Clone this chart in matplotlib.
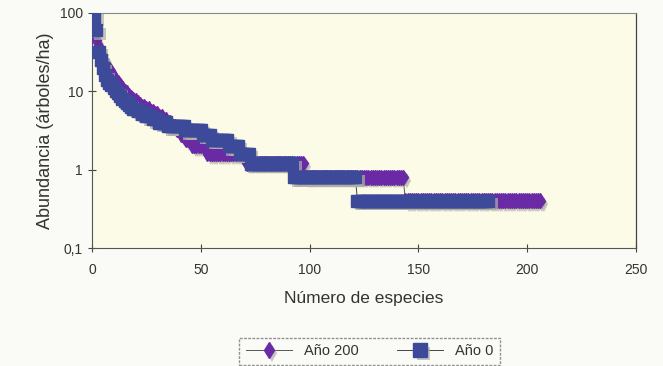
import numpy as np
import matplotlib
matplotlib.use("Agg")
import matplotlib.pyplot as plt
import matplotlib.patheffects as pe
from matplotlib.ticker import FixedLocator, NullLocator
from matplotlib.lines import Line2D

# ---- data: abundance (trees/ha) per species, ordered by rank ----
# run-length: (abundance, number of species at that abundance)
anio0_runs = [
    (90, 1), (60, 1), (32, 1), (25, 1), (20, 1), (16, 1), (14, 1), (13, 1),
    (12, 1), (11, 1), (10, 1), (9.6, 1), (8.8, 1), (8.0, 1), (7.6, 1),
    (7.2, 1), (6.8, 1), (6.4, 1), (6.0, 2), (5.6, 2), (5.2, 2), (4.8, 3),
    (4.4, 3), (4.0, 4), (3.6, 8), (3.2, 8), (2.8, 4), (2.4, 8), (2.0, 5),
    (1.6, 5), (1.2, 20), (0.8, 29), (0.4, 61),
]
anio200_runs = [
    (65, 1), (45, 1), (38, 1), (32, 1), (27, 1), (24, 1), (21, 1), (19, 1),
    (17, 1), (15.5, 1), (14, 1), (13, 1), (12, 1), (11, 1), (10, 1), (9.6, 1),
    (8.8, 1), (8.4, 1), (8.0, 1), (7.6, 1), (7.2, 1), (6.8, 1), (6.4, 2),
    (6.0, 2), (5.6, 2), (5.2, 2), (4.8, 2), (4.4, 2), (4.0, 2), (3.6, 2),
    (3.2, 2), (2.8, 2), (2.4, 3), (2.0, 7), (1.6, 18), (1.2, 27), (0.8, 46),
    (0.4, 63),
]
series_labels = ["Año 200", "Año 0"]
x_ticks = [0, 50, 100, 150, 200, 250]
y_ticks = [0.1, 1, 10, 100]
y_ticklabels = ["0,1", "1", "10", "100"]


def expand(runs):
    vals = np.repeat([r[0] for r in runs], [r[1] for r in runs])
    ranks = np.arange(1, len(vals) + 1)
    return ranks, vals


plt.rcParams['font.family'] = ['Liberation Sans', 'DejaVu Sans']

fig = plt.figure(figsize=(6.63, 3.66), dpi=100, facecolor='#fafaf6')
ax = fig.add_axes([0.1388, 0.3224, 0.8205, 0.6421])
ax.set_facecolor('#fbfbe8')

shadow = [pe.SimplePatchShadow(offset=(2.5, -2.5), shadow_rgbFace='#b0b0a8', alpha=0.7),
          pe.Normal()]

purple = '#6a2aa5'
blue = '#3d4a9a'
styles = [dict(marker='d', ms=7.5, color=purple, lc='#555555'),
          dict(marker='s', ms=8.8, color=blue, lc='#444444')]

for (runs, st, z) in [(anio200_runs, styles[0], 3), (anio0_runs, styles[1], 5)]:
    xx, yy = expand(runs)
    ax.plot(xx, yy, color=st['lc'], lw=0.7, zorder=z - 0.5)
    ax.plot(xx, yy, linestyle='none', marker=st['marker'], markersize=st['ms'],
            markerfacecolor=st['color'], markeredgecolor=st['color'],
            path_effects=shadow, zorder=z)

ax.set_yscale('log')
ax.set_xlim(0, 250)
ax.set_ylim(0.1, 100)
ax.xaxis.set_major_locator(FixedLocator(x_ticks))
ax.yaxis.set_major_locator(FixedLocator(y_ticks))
ax.yaxis.set_minor_locator(NullLocator())
ax.set_yticklabels(y_ticklabels)
ax.tick_params(axis='both', labelsize=10, colors='#444444', direction='inout',
               length=6, width=0.8, labelcolor='#333333')
ax.tick_params(axis='x', pad=8)

ax.spines['top'].set_linestyle((0, (2, 1)))
ax.spines['top'].set_color('#888888')
ax.spines['top'].set_linewidth(0.8)
ax.spines['left'].set_linestyle((0, (1, 1)))
ax.spines['left'].set_color('#555555')
ax.spines['bottom'].set_linestyle((0, (2, 1)))
ax.spines['bottom'].set_color('#555555')
ax.spines['right'].set_color('#444444')
ax.spines['right'].set_linewidth(0.9)

ax.set_xlabel('Número de especies', fontsize=12.5, color='#333333', labelpad=10)
ax.set_ylabel('Abundancia (árboles/ha)', fontsize=13, color='#333333', labelpad=4)

handles = [Line2D([], [], color=styles[i]['lc'], lw=0.7, marker=styles[i]['marker'],
                  markersize=styles[i]['ms'] + 1, markerfacecolor=styles[i]['color'],
                  markeredgecolor=styles[i]['color'], path_effects=shadow)
           for i in range(2)]
leg = ax.legend(handles, series_labels, loc='upper center',
                bbox_to_anchor=(0.51, -0.35), ncol=2,
                frameon=True, fontsize=10.5, handlelength=3.2, columnspacing=2.6,
                borderpad=0.45, fancybox=False)
leg.get_frame().set_edgecolor('#777777')
leg.get_frame().set_linestyle((0, (2, 1)))
leg.get_frame().set_facecolor('#fafaf6')
for t in leg.get_texts():
    t.set_color('#333333')

fig.savefig('out.png', dpi=100, facecolor=fig.get_facecolor())
